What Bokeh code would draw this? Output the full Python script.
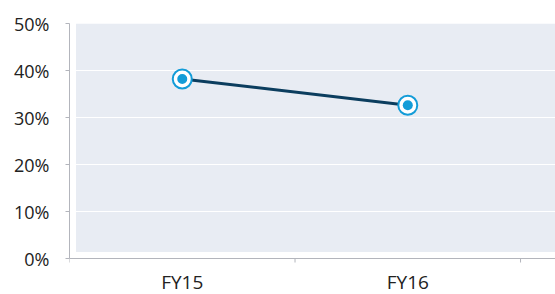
from bokeh.plotting import figure
from bokeh.models import (Range1d, FixedTicker, BoxAnnotation, NumeralTickFormatter,
                          ColumnDataSource, LabelSet, Span)
from bokeh.core.properties import value
from bokeh.embed import file_html
from bokeh.resources import INLINE

categories = ["FY15", "FY16"]
values = [0.382, 0.326]
y_ticks = [0.0, 0.1, 0.2, 0.3, 0.4, 0.5]

n = len(categories)
x_pos = [i + 0.5 for i in range(n)]
bounds = list(range(n + 1))
PX = 1 / 470.0  # one pixel in y data units (0..0.5 spans 235 px)

src = ColumnDataSource(dict(x=x_pos, y=values, cat=categories,
                            ly=[-30 * PX] * n))
tick_src = ColumnDataSource(dict(x=bounds, y0=[0.0] * len(bounds),
                                 y1=[-4 * PX] * len(bounds)))

BG = "#E8ECF3"
AXIS = "#B3B5BC"
BLUE = "#139CD8"
NAVY = "#0B3D5E"
FONT = "Open Sans"

p = figure(width=555, height=294, output_backend="svg", toolbar_location=None,
           x_range=Range1d(0, 2.155), y_range=Range1d(-36 * PX, 0.5),
           x_axis_location=None,
           min_border_left=69, min_border_right=0, min_border_top=23, min_border_bottom=0)
p.outline_line_color = None
p.background_fill_color = "white"
p.border_fill_color = "white"

bg = BoxAnnotation(left=0.029, bottom=6.5 * PX, fill_color=BG, fill_alpha=1.0,
                   line_color=None, level="image")
p.add_layout(bg)

p.xgrid.visible = False
p.ygrid.grid_line_color = "white"
p.ygrid.grid_line_width = 1
p.ygrid.ticker = FixedTicker(ticks=y_ticks[1:])

# y axis
p.yaxis.bounds = (0, 0.5)
p.yaxis.ticker = FixedTicker(ticks=y_ticks)
p.yaxis.formatter = NumeralTickFormatter(format="0%")
p.yaxis.axis_line_color = AXIS
p.yaxis.major_tick_line_color = AXIS
p.yaxis.major_tick_out = 4
p.yaxis.major_tick_in = 0
p.yaxis.minor_tick_line_color = None
p.yaxis.major_label_standoff = 16
p.yaxis.major_label_text_font = FONT
p.yaxis.major_label_text_font_size = "18px"
p.yaxis.major_label_text_color = "#222222"

# x axis: baseline, category boundary ticks and category names
p.add_layout(Span(location=0, dimension="width", line_color=AXIS, line_width=1))
p.segment(x0="x", y0="y0", x1="x", y1="y1", source=tick_src, line_color=AXIS, line_width=1)

labels = LabelSet(x="x", y="ly", text="cat", source=src, text_align="center",
                  text_baseline="alphabetic", text_font=value(FONT),
                  text_font_size=value("19px"), text_color="#222222")
p.add_layout(labels)

p.line("x", "y", source=src, line_color=NAVY, line_width=3)
p.scatter("x", "y", source=src, size=19, fill_color="white", line_color=BLUE, line_width=2)
p.scatter("x", "y", source=src, size=10, fill_color=BLUE, line_color=None)

open("out.html", "w").write(file_html(p, INLINE))
